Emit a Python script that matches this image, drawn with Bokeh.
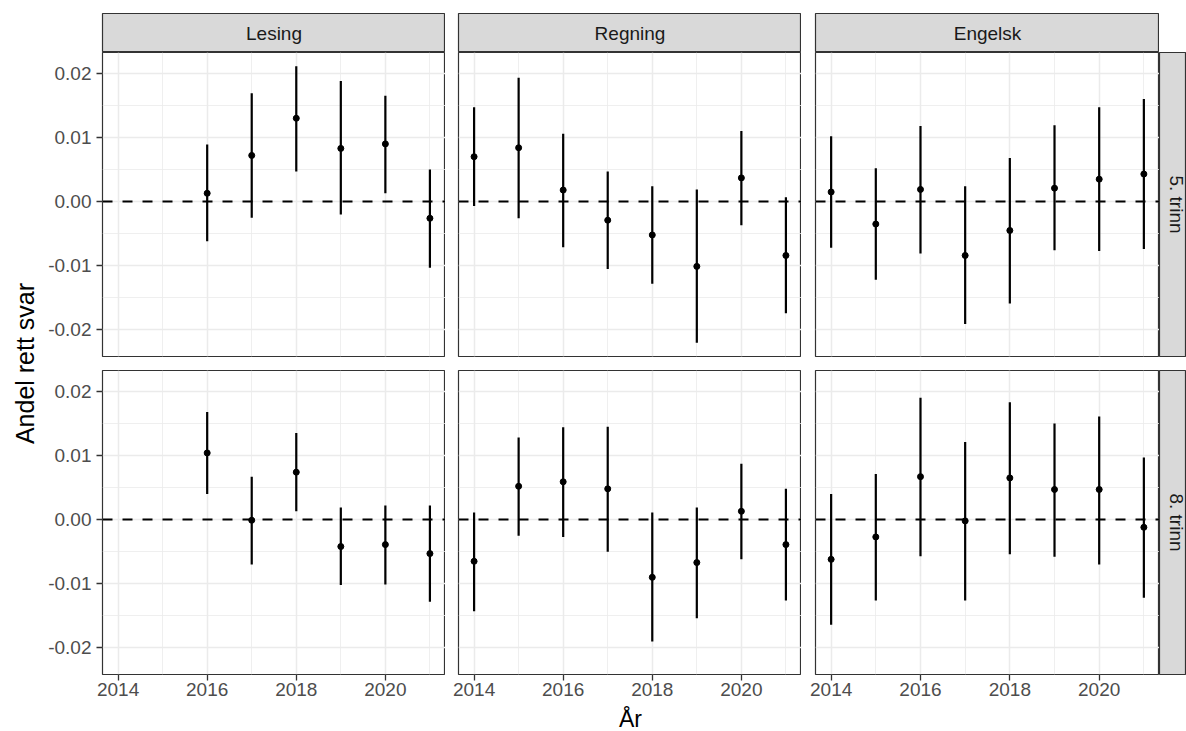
import math
from bokeh.plotting import figure
from bokeh.models import (ColumnDataSource, Range1d, FixedTicker, NumeralTickFormatter,
                          Span, Label)
from bokeh.layouts import row, column
from bokeh.embed import file_html
from bokeh.resources import INLINE

FONT = "Liberation Sans"

# ---------------- data ----------------
subjects = ["Lesing", "Regning", "Engelsk"]
grades = ["5. trinn", "8. trinn"]

years_lesing = [2016, 2017, 2018, 2019, 2020, 2021]
years_all = [2014, 2015, 2016, 2017, 2018, 2019, 2020, 2021]

lesing_5_est = [0.0013, 0.0072, 0.0130, 0.0083, 0.0090, -0.0026]
lesing_5_lo = [-0.0062, -0.0025, 0.0047, -0.0020, 0.0013, -0.0103]
lesing_5_hi = [0.0089, 0.0169, 0.0211, 0.0188, 0.0165, 0.0050]

regning_5_est = [0.0070, 0.0084, 0.0018, -0.0029, -0.0052, -0.0101, 0.0037, -0.0084]
regning_5_lo = [-0.0007, -0.0026, -0.0071, -0.0105, -0.0128, -0.0220, -0.0037, -0.0174]
regning_5_hi = [0.0147, 0.0193, 0.0106, 0.0047, 0.0024, 0.0019, 0.0110, 0.0007]

engelsk_5_est = [0.0015, -0.0035, 0.0019, -0.0084, -0.0045, 0.0021, 0.0035, 0.0043]
engelsk_5_lo = [-0.0072, -0.0122, -0.0081, -0.0191, -0.0159, -0.0076, -0.0077, -0.0074]
engelsk_5_hi = [0.0102, 0.0052, 0.0118, 0.0024, 0.0068, 0.0119, 0.0147, 0.0160]

lesing_8_est = [0.0104, -0.0001, 0.0074, -0.0042, -0.0039, -0.0053]
lesing_8_lo = [0.0040, -0.0070, 0.0013, -0.0102, -0.0101, -0.0128]
lesing_8_hi = [0.0168, 0.0067, 0.0135, 0.0019, 0.0022, 0.0022]

regning_8_est = [-0.0065, 0.0052, 0.0059, 0.0048, -0.0090, -0.0067, 0.0013, -0.0039]
regning_8_lo = [-0.0143, -0.0025, -0.0027, -0.0050, -0.0190, -0.0154, -0.0062, -0.0126]
regning_8_hi = [0.0011, 0.0128, 0.0144, 0.0145, 0.0011, 0.0019, 0.0087, 0.0048]

engelsk_8_est = [-0.0062, -0.0027, 0.0067, -0.0002, 0.0065, 0.0047, 0.0047, -0.0012]
engelsk_8_lo = [-0.0164, -0.0126, -0.0057, -0.0126, -0.0054, -0.0058, -0.0070, -0.0122]
engelsk_8_hi = [0.0040, 0.0071, 0.0190, 0.0121, 0.0183, 0.0150, 0.0161, 0.0097]

x_major = [2014, 2016, 2018, 2020]
x_minor = [2015, 2017, 2019, 2021]
y_major = [-0.02, -0.01, 0.0, 0.01, 0.02]
y_minor = [-0.015, -0.005, 0.005, 0.015]

x_title = "År"
y_title = "Andel rett svar"

panel_data = {
    (0, 0): (years_lesing, lesing_5_est, lesing_5_lo, lesing_5_hi),
    (0, 1): (years_all, regning_5_est, regning_5_lo, regning_5_hi),
    (0, 2): (years_all, engelsk_5_est, engelsk_5_lo, engelsk_5_hi),
    (1, 0): (years_lesing, lesing_8_est, lesing_8_lo, lesing_8_hi),
    (1, 1): (years_all, regning_8_est, regning_8_lo, regning_8_hi),
    (1, 2): (years_all, engelsk_8_est, engelsk_8_lo, engelsk_8_hi),
}

# ------------- ranges (ggplot-style 5% expansion) -------------
all_x = [x for v in panel_data.values() for x in v[0]]
all_lo = [x for v in panel_data.values() for x in v[2]]
all_hi = [x for v in panel_data.values() for x in v[3]]
xmin, xmax = min(all_x), max(all_x)
ymin, ymax = min(all_lo), max(all_hi)
xpad = 0.05 * (xmax - xmin)
ypad = 0.05 * (ymax - ymin)
XLO, XHI = xmin - xpad, xmax + xpad
YLO, YHI = ymin - ypad, ymax + ypad

# ------------- layout constants -------------
YLAB_W = 40
GAP_L = [62, 13, 14]
FRAME_W = [343, 343, 344]
FRAME_H = 304
STRIP_TOP = 13
STRIP_H = 39
RSTRIP_W = 27
TOPB = [0, 7]
BOTB = [7, 30]
XLAB_H = 27

BORDER = "#333333"
GRID = "#EBEBEB"
STRIP_FILL = "#D9D9D9"
TICK_TXT = "#4D4D4D"
STRIP_TXT = "#1A1A1A"


def base_fig(width, height, left, right, top, bottom, xr, yr, xloc=None, yloc=None):
    p = figure(width=width, height=height, x_range=xr, y_range=yr,
               x_axis_location=xloc, y_axis_location=yloc,
               output_backend="svg", toolbar_location=None,
               min_border_left=left, min_border_right=right,
               min_border_top=top, min_border_bottom=bottom)
    p.background_fill_color = "white"
    p.border_fill_color = "white"
    return p


def make_panel(r, c):
    yrs, est, lo, hi = panel_data[(r, c)]
    width = GAP_L[c] + FRAME_W[c]
    height = TOPB[r] + FRAME_H + BOTB[r]
    p = base_fig(width, height, GAP_L[c], 0, TOPB[r], BOTB[r],
                 Range1d(XLO, XHI), Range1d(YLO, YHI),
                 xloc="below" if r == 1 else None,
                 yloc="left" if c == 0 else None)
    p.outline_line_color = BORDER
    p.outline_line_width = 1.2

    p.xgrid.ticker = FixedTicker(ticks=x_major, minor_ticks=x_minor)
    p.ygrid.ticker = FixedTicker(ticks=y_major, minor_ticks=y_minor)
    p.grid.grid_line_color = GRID
    p.grid.grid_line_width = 1.5
    p.grid.minor_grid_line_color = GRID
    p.grid.minor_grid_line_width = 0.8

    for ax in p.xaxis + p.yaxis:
        ax.axis_line_color = None
        ax.major_tick_line_color = BORDER
        ax.major_tick_line_width = 1.3
        ax.major_tick_out = 6
        ax.major_tick_in = 0
        ax.minor_tick_line_color = None
        ax.major_label_text_font = FONT
        ax.major_label_text_font_size = "19px"
        ax.major_label_text_color = TICK_TXT
    if r == 1:
        p.xaxis.ticker = FixedTicker(ticks=x_major)
        p.xaxis.major_label_standoff = 2
    if c == 0:
        p.yaxis.ticker = FixedTicker(ticks=y_major)
        p.yaxis.formatter = NumeralTickFormatter(format="0.00")
        p.yaxis.major_label_standoff = 5

    p.add_layout(Span(location=0, dimension="width", line_color="black",
                      line_width=2, line_dash="10 10"))
    src = ColumnDataSource(dict(year=yrs, est=est, lo=lo, hi=hi))
    p.segment(x0="year", y0="lo", x1="year", y1="hi", source=src,
              line_color="black", line_width=2.2)
    p.scatter(x="year", y="est", source=src, size=6, color="black")
    return p


def make_top_strip(c):
    s = base_fig(GAP_L[c] + FRAME_W[c], STRIP_TOP + STRIP_H, GAP_L[c], 0, STRIP_TOP, 0,
                 Range1d(0, 1), Range1d(0, 1))
    s.background_fill_color = STRIP_FILL
    s.outline_line_color = BORDER
    s.outline_line_width = 1.2
    s.grid.visible = False
    s.add_layout(Label(x=0.5, y=0.5, text=subjects[c], text_align="center",
                       text_baseline="middle", text_font=FONT,
                       text_font_size="19px", text_color=STRIP_TXT))
    return s


def make_right_strip(r):
    height = TOPB[r] + FRAME_H + BOTB[r]
    s = base_fig(RSTRIP_W, height, 0, 0, TOPB[r], BOTB[r], Range1d(0, 1), Range1d(0, 1))
    s.background_fill_color = STRIP_FILL
    s.outline_line_color = BORDER
    s.outline_line_width = 1.2
    s.grid.visible = False
    s.add_layout(Label(x=17 / RSTRIP_W, y=0.5, text=grades[r], text_align="center",
                       text_baseline="middle", angle=-math.pi / 2, text_font=FONT,
                       text_font_size="19px", text_color=STRIP_TXT))
    return s


total_h = STRIP_TOP + STRIP_H + sum(TOPB) + 2 * FRAME_H + sum(BOTB) + XLAB_H
ylab = base_fig(YLAB_W, total_h, 0, 0, 0, 0, Range1d(0, YLAB_W), Range1d(0, total_h))
ylab.outline_line_color = None
ylab.grid.visible = False
ylab.add_layout(Label(x=24, y=total_h - 363, text=y_title, angle=math.pi / 2,
                      text_align="center", text_baseline="middle",
                      text_font=FONT, text_font_size="25px", text_color="black"))

col_w = sum(GAP_L) + sum(FRAME_W) + RSTRIP_W
xlab = base_fig(col_w, XLAB_H, 0, 0, 0, 0, Range1d(0, col_w), Range1d(0, XLAB_H))
xlab.outline_line_color = None
xlab.grid.visible = False
xlab.add_layout(Label(x=630 - YLAB_W, y=13, text=x_title, text_align="center",
                      text_baseline="middle", text_font=FONT,
                      text_font_size="23px", text_color="black"))

strip_row = row(*[make_top_strip(c) for c in range(3)], spacing=0)
row1 = row(*[make_panel(0, c) for c in range(3)], make_right_strip(0), spacing=0)
row2 = row(*[make_panel(1, c) for c in range(3)], make_right_strip(1), spacing=0)

layout = row(ylab, column(strip_row, row1, row2, xlab, spacing=0), spacing=0)

open("out.html", "w").write(file_html(layout, INLINE))
